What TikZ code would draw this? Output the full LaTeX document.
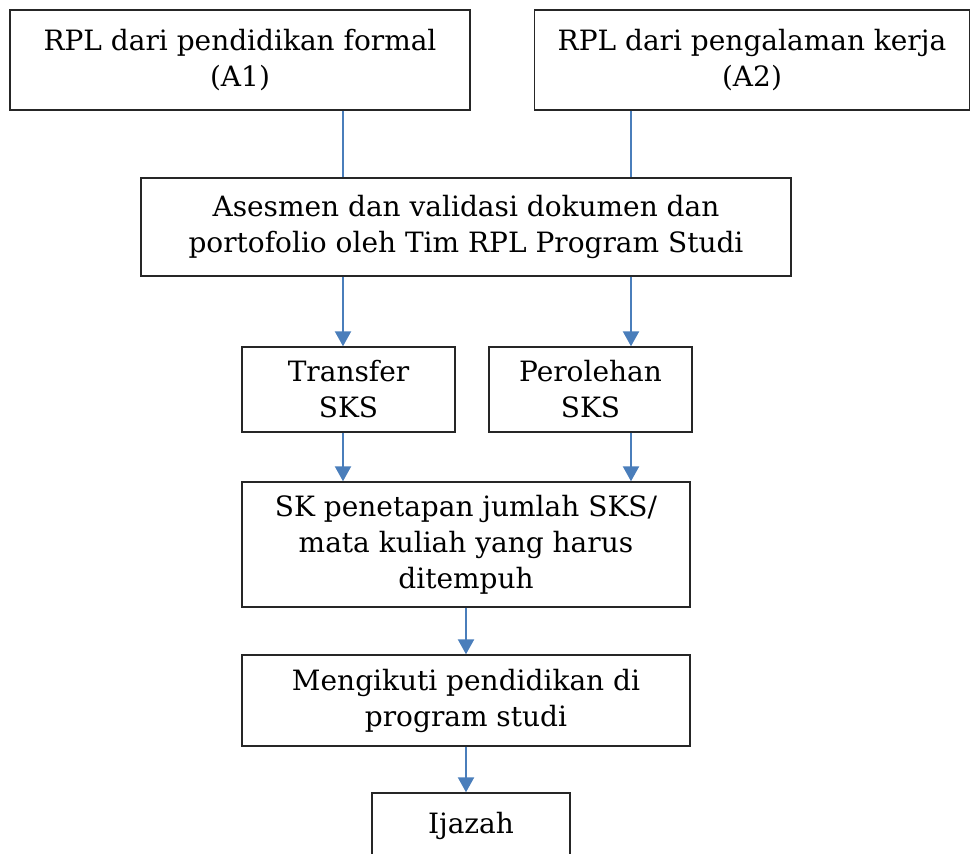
\documentclass[tikz,border=0pt]{standalone}
\usepackage{fontspec}
\setmainfont{DejaVu Serif}
\usetikzlibrary{arrows.meta}
\definecolor{azul}{RGB}{74,126,187}

\begin{document}
\begin{tikzpicture}[x=1pt, y=-1pt, >={Triangle[width=16pt,length=15pt]},
	caja/.style={draw=black!85, line width=1.4pt, align=center, inner sep=0pt, font=\fontsize{28}{36}\selectfont},
	linea/.style={azul, line width=2.2pt}]

%\draw[help lines] (0,0) grid (980,854);
				\useasboundingbox (0,0) rectangle (980,854);
				\node [caja, minimum width=460, minimum height=100] (a1) at (240,60) {RPL dari pendidikan formal\\(A1)};
				\node [caja, minimum width=435, minimum height=100] (a2) at (752,60) {RPL dari pengalaman kerja\\(A2)};
				\node [caja, minimum width=650, minimum height=98] (asesmen) at (466,227) {Asesmen dan validasi dokumen dan\\portofolio oleh Tim RPL Program Studi};
				\node [caja, minimum width=213, minimum height=85] (transfer) at (348.5,389.5) {Transfer\\SKS};
				\node [caja, minimum width=203, minimum height=85] (perolehan) at (590.5,389.5) {Perolehan\\SKS};
				\node [caja, minimum width=448, minimum height=125] (sk) at (466,544.5) {SK penetapan jumlah SKS/\\mata kuliah yang harus\\ditempuh};
				\node [caja, minimum width=448, minimum height=91] (ikut) at (466,700.5) {Mengikuti pendidikan di\\program studi};
				\node [caja, minimum width=198, minimum height=66] (ijazah) at (471,826) {Ijazah}; % sale por abajo

				\coordinate (izq) at (343,0); % columna izquierda
				\coordinate (der) at (631,0); % columna derecha

				\draw [linea] (a1.south -| izq) -- (asesmen.north -| izq);
				\draw [linea] (a2.south -| der) -- (asesmen.north -| der);
				\draw [linea,->] (asesmen.south -| izq) -- (transfer.north -| izq);
				\draw [linea,->] (asesmen.south -| der) -- (perolehan.north -| der);
				\draw [linea,->] (transfer.south -| izq) -- (sk.north -| izq);
				\draw [linea,->] (perolehan.south -| der) -- (sk.north -| der);
				\draw [linea,->] (sk.south) -- (ikut.north);
				\draw [linea,->] (ikut.south) -- (ijazah.north -| ikut.south);

\end{tikzpicture}
\end{document}
